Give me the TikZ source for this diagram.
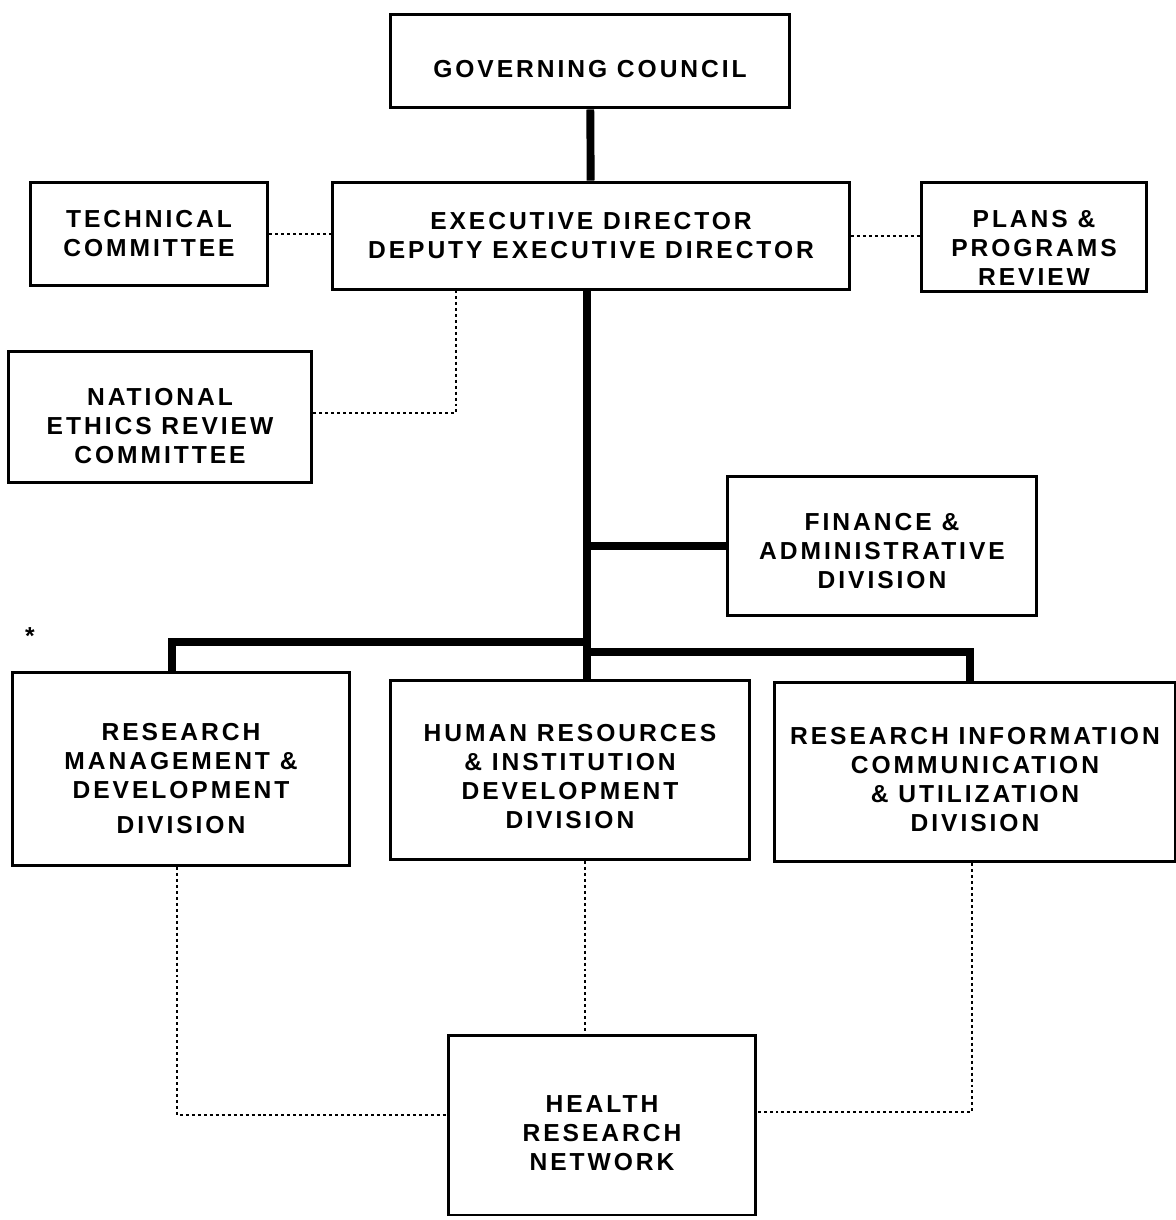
\documentclass[tikz,border=0pt]{standalone}
\usepackage{fontspec}
\setmainfont{Liberation Sans}[LetterSpace=12]
\usetikzlibrary{positioning,calc}
\newcommand{\lift}[1]{\rule{0pt}{#1}}

\begin{document}
\begin{tikzpicture}[
    x=0.02cm, y=-0.02cm,
    unit/.style={rectangle, draw, line width=1.7pt, align=center, inner sep=2pt, font=\fontsize{14}{16.5}\selectfont\bfseries},
    trunk/.style={line width=4.5pt},
    link/.style={line width=0.8pt, dash pattern=on 1.7pt off 1.7pt}
]
    \useasboundingbox (0,0) rectangle (1176,1220);

    % Top
    \node[unit, minimum width=8cm, minimum height=1.88cm] (gov) at (590,61) {\lift{19pt}GOVERNING COUNCIL};
    \node[unit, minimum width=10.34cm, minimum height=2.16cm] (exec) at (591,236) {EXECUTIVE DIRECTOR\\DEPUTY EXECUTIVE DIRECTOR};
    \node[unit, minimum width=4.76cm, minimum height=2.08cm] (tech) at (149,234) {TECHNICAL\\COMMITTEE};
    \node[unit, minimum width=4.5cm, minimum height=2.18cm,
        label={[font=\fontsize{14}{16.5}\selectfont\bfseries, align=center, yshift=-0.22cm]center:PLANS \&\\PROGRAMS\\REVIEW}] (plans) at (1034,237) {};
    \node[unit, minimum width=6.08cm, minimum height=2.62cm] (nerc) at (160,417) {\lift{20pt}NATIONAL\\ETHICS REVIEW\\COMMITTEE};

    % Divisions
    \node[unit, minimum width=6.18cm, minimum height=2.8cm] (fin) at (882,546) {\lift{15.7pt}FINANCE \&\\ADMINISTRATIVE\\DIVISION};
    \node[unit, minimum width=6.74cm, minimum height=3.86cm] (rmd) at (181,769) {\lift{20.8pt}RESEARCH\\MANAGEMENT \&\\DEVELOPMENT\\[3.5pt]DIVISION};
    \node[unit, minimum width=7.2cm, minimum height=3.58cm] (hr) at (570,770) {\lift{17.4pt}HUMAN RESOURCES\\\& INSTITUTION\\DEVELOPMENT\\DIVISION};
    \node[unit, minimum width=8.04cm, minimum height=3.6cm] (ri) at (975,772) {\lift{18pt}RESEARCH INFORMATION\\COMMUNICATION\\\& UTILIZATION\\DIVISION};
    \node[font=\fontsize{14}{17}\selectfont\bfseries] (star) at (30,636) {*};

    % Network
    \node[unit, minimum width=6.14cm, minimum height=3.6cm] (hrn) at (602,1125) {\lift{19pt}HEALTH\\RESEARCH\\NETWORK};

    % Solid lines
    \coordinate (spine) at (587,290);
    \coordinate (busl) at (587,642);
    \coordinate (busr) at (587,652);
    \draw[trunk] (gov) -- (exec);
    \draw[trunk] (spine) -- (spine |- hr.north);
    \draw[trunk] (spine |- fin.west) -- (fin.west);
    \draw[trunk] (busl) -| ([xshift=-0.18cm]rmd.north);
    \draw[trunk] (busr) -| ([xshift=-0.1cm]ri.north);

    % Dotted lines
    \coordinate (ethtap) at (456,290);
    \draw[link] (tech.east) -- (tech.east -| exec.west);
    \draw[link] (exec.east) -- (exec.east -| plans.west);
    \draw[link] (ethtap) |- ([yshift=0.08cm]nerc.east);
    \draw[link] ([xshift=-0.08cm]rmd.south) |- ([yshift=0.2cm]hrn.west);
    \draw[link] ([xshift=0.3cm]hr.south) -- ([xshift=0.3cm]hr.south |- hrn.north);
    \draw[link] ([xshift=-0.06cm]ri.south) |- ([yshift=0.26cm]hrn.east);
\end{tikzpicture}
\end{document}
